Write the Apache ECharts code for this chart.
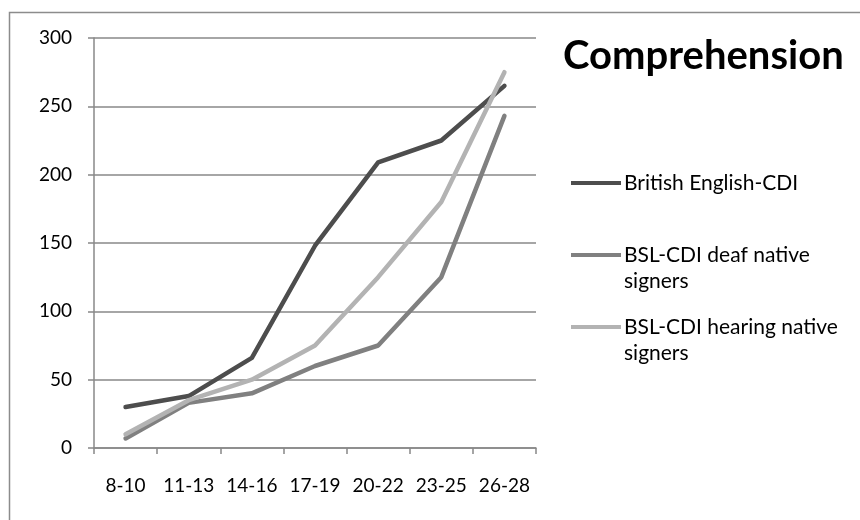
<!DOCTYPE html>
<html>
<head>
<meta charset="utf-8">
<script src="https://cdn.jsdelivr.net/npm/echarts@6/dist/echarts.min.js"></script>
<style>
  html, body { margin: 0; padding: 0; background: #fff; }
  #chart { width: 860px; height: 520px; }
</style>
</head>
<body>
<div id="chart"></div>
<script>
// Age bands (months)
const ageBands = ['8-10', '11-13', '14-16', '17-19', '20-22', '23-25', '26-28'];

// Median comprehension vocabulary per age band
const britishEnglish = [30, 38, 66, 148, 209, 225, 265];
const bslDeaf = [7, 33, 40, 60, 75, 125, 243];
const bslHearing = [10, 35, 50, 75, 125, 180, 275];

const seriesNames = ['British English-CDI', 'BSL-CDI deaf native signers', 'BSL-CDI hearing native signers'];
const legendLabels = ['British English-CDI', 'BSL-CDI deaf native\nsigners', 'BSL-CDI hearing native\nsigners'];
const seriesColors = ['#4d4d4d', '#808080', '#b3b3b3'];

const yTicks = { min: 0, max: 300, interval: 50 };

const font = 'Lato, "Open Sans", sans-serif';
const axisGray = '#888888';

// One legend block per series; a leading blank line keeps the swatch level
// with the first line of a wrapped label.
function legendFor(i, top) {
  const multi = legendLabels[i].indexOf('\n') >= 0;
  return {
    data: [seriesNames[i]],
    left: 571,
    top: top,
    orient: 'vertical',
    icon: 'rect',
    itemWidth: 50,
    itemHeight: 4,
    itemGap: 0,
    padding: 0,
    selectedMode: false,
    formatter: () => (multi ? ' \n' : '') + legendLabels[i],
    textStyle: {
      fontFamily: font,
      fontSize: 21,
      color: '#000',
      lineHeight: 26,
      padding: [0, 0, 0, -2]
    }
  };
}

const chart = echarts.init(document.getElementById('chart'), null, { renderer: 'canvas' });

chart.setOption({
  animation: false,
  backgroundColor: '#fff',
  graphic: [{
    type: 'rect',
    shape: { x: 9.5, y: 12.5, width: 900, height: 600 },
    style: { fill: 'none', stroke: '#8c8c8c', lineWidth: 1.5 },
    silent: true
  }],
  title: {
    text: 'Comprehension',
    left: 563,
    top: 36,
    padding: 0,
    textStyle: { fontFamily: font, fontSize: 40, fontWeight: 'bold', color: '#000' }
  },
  legend: [legendFor(0, 170), legendFor(1, 216), legendFor(2, 288)],
  grid: { left: 94, right: 324, top: 38, bottom: 72 },
  xAxis: {
    type: 'category',
    data: ageBands,
    boundaryGap: true,
    axisLine: { lineStyle: { color: axisGray, width: 1.5 } },
    axisTick: { show: true, length: 6, alignWithLabel: false, lineStyle: { color: axisGray, width: 1.5 } },
    axisLabel: { fontFamily: font, fontSize: 19, color: '#000', margin: 28, interval: 0 },
    splitLine: { show: false }
  },
  yAxis: {
    type: 'value',
    min: yTicks.min,
    max: yTicks.max,
    interval: yTicks.interval,
    axisLine: { show: true, lineStyle: { color: axisGray, width: 1.5 } },
    axisTick: { show: true, length: 6, lineStyle: { color: axisGray, width: 1.5 } },
    axisLabel: { fontFamily: font, fontSize: 19, color: '#000', margin: 22 },
    splitLine: { show: true, lineStyle: { color: axisGray, width: 1.5 } }
  },
  series: [britishEnglish, bslDeaf, bslHearing].map((values, i) => ({
    name: seriesNames[i],
    type: 'line',
    data: values,
    symbol: 'none',
    smooth: false,
    color: seriesColors[i],
    lineStyle: { width: 4.5, color: seriesColors[i], cap: 'round', join: 'round' }
  }))
});
</script>
</body>
</html>
